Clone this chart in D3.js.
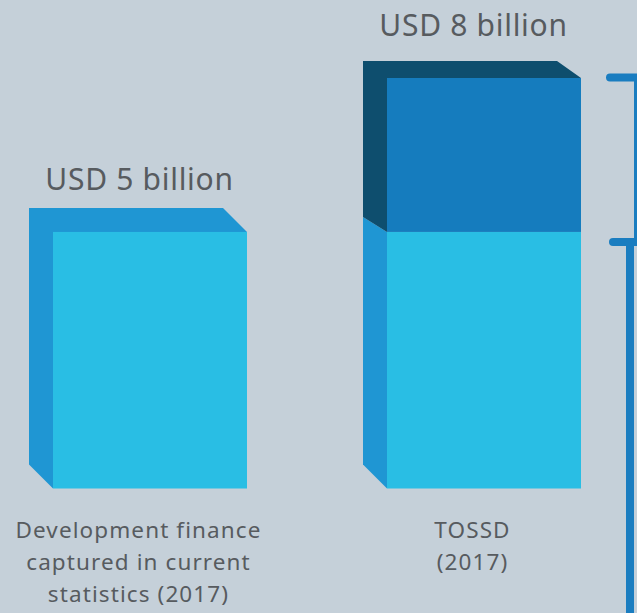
<!DOCTYPE html>
<html>
<head>
<meta charset="utf-8">
<script src="https://cdn.jsdelivr.net/npm/d3@7"></script>
<style>
  html, body { margin: 0; padding: 0; background: #c5d0d9; }
  svg { display: block; }
  text { font-family: "Noto Sans", "Open Sans", sans-serif; fill: #575b5f; }
</style>
</head>
<body>
<svg id="chart" width="637" height="613"></svg>
<script>
// Categories and their stacked values (USD billion)
const categories = ["dev", "tossd"];
const categoryLines = [
  ["Development finance", "captured in current", "statistics (2017)"],
  ["TOSSD", "(2017)"]
];
const baseValues = [5, 5];      // finance captured in current statistics
const extraValues = [0, 3];     // additional flows captured by TOSSD
const totalLabels = ["USD 5 billion", "USD 8 billion"];

const W = 637, H = 613;
const svg = d3.select("#chart");

// Front faces of the bars
const x = d3.scaleBand().domain(categories).range([53, 581]).paddingInner(140 / 334);
const barW = x.bandwidth();
const y = d3.scaleLinear().domain([0, 8]).range([488.5, 78]);

// 3D extrusion: the back face is shifted left and up
const depthX = 24;
const depthBottom = 24;
const depthTop = [24, 17];
const depthMid = 15;

const colors = {
  lightFront: "#29bee4",
  lightSide: "#1f96d3",
  darkFront: "#157cbe",
  darkSide: "#0e4e6e",
  bracket: "#1a7dc0"
};

const poly = pts => "M" + pts.map(p => p.join(",")).join("L") + "Z";

categories.forEach((c, i) => {
  const xs = x(c);
  const x1 = xs + barW;
  const yBot = y(0);
  const yBase = y(baseValues[i]);
  const yTot = y(baseValues[i] + extraValues[i]);
  const dt = depthTop[i];
  const g = svg.append("g");

  if (extraValues[i] > 0) {
    const dm = depthMid;
    // lower side face
    g.append("path").attr("fill", colors.lightSide)
      .attr("d", poly([[xs - depthX, yBase - dm], [xs, yBase], [xs, yBot], [xs - depthX, yBot - depthBottom]]));
    // upper side face + top face
    g.append("path").attr("fill", colors.darkSide)
      .attr("d", poly([[xs - depthX, yTot - dt], [x1 - depthX, yTot - dt], [x1, yTot], [xs, yTot], [xs, yBase], [xs - depthX, yBase - dm]]));
    // front faces
    g.append("rect").attr("fill", colors.lightFront)
      .attr("x", xs).attr("y", yBase).attr("width", barW).attr("height", yBot - yBase);
    g.append("rect").attr("fill", colors.darkFront)
      .attr("x", xs).attr("y", yTot).attr("width", barW).attr("height", yBase - yTot);
  } else {
    g.append("path").attr("fill", colors.lightSide)
      .attr("d", poly([[xs - depthX, yTot - dt], [x1 - depthX, yTot - dt], [x1, yTot], [xs, yTot], [xs, yBot], [xs - depthX, yBot - depthBottom]]));
    g.append("rect").attr("fill", colors.lightFront)
      .attr("x", xs).attr("y", yTot).attr("width", barW).attr("height", yBot - yTot);
  }

  const cx = (xs - depthX + x1) / 2;
  // total value label above the bar
  svg.append("text")
    .attr("x", cx + 1.5).attr("y", yTot - 42)
    .attr("text-anchor", "middle")
    .style("font-size", "30px")
    .style("letter-spacing", "0.7px")
    .text(totalLabels[i]);

  // category label below the bar
  const t = svg.append("text")
    .attr("text-anchor", "middle")
    .style("font-size", "22.5px")
    .style("letter-spacing", "1.1px");
  categoryLines[i].forEach((line, k) => {
    t.append("tspan").attr("x", cx + 0.5).attr("y", 538 + k * 32).text(line);
  });
});

// Brackets on the right marking the two components of TOSSD
const bracket = svg.append("g")
  .attr("stroke", colors.bracket)
  .attr("stroke-width", 8)
  .attr("stroke-linecap", "round")
  .attr("fill", "none");

bracket.append("path")
  .attr("d", `M610,${y(8) - 0.5}H638V${y(5) + 10}`);
bracket.append("path")
  .attr("d", `M613,${y(5) + 10}H645`);
bracket.append("path")
  .attr("stroke-linecap", "butt")
  .attr("d", `M630,${y(5) + 10}V${H + 10}`);
</script>
</body>
</html>
